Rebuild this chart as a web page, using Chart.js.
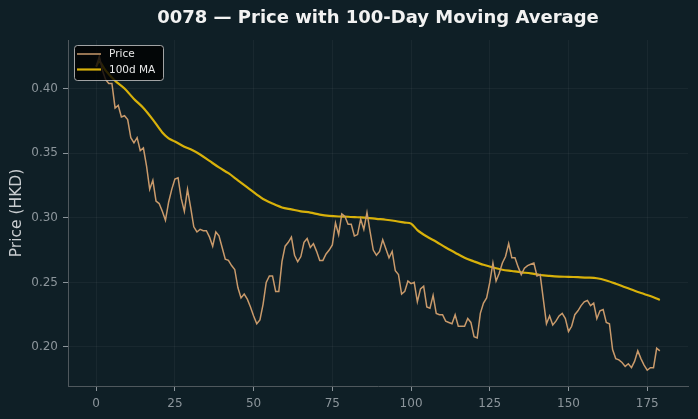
<!DOCTYPE html>
<html>
<head>
<meta charset="utf-8">
<script src="https://cdn.jsdelivr.net/npm/chart.js@4.4.1/dist/chart.umd.min.js"></script>
<style>
  html, body { margin: 0; padding: 0; background: #0f1f26; }
  #wrap { width: 698px; height: 419px; }
</style>
</head>
<body>
<div id="wrap"><canvas id="c" width="698" height="419"></canvas></div>
<script>
// ---- Data ----
const titleText = "0078 — Price with 100-Day Moving Average";
const yAxisLabel = "Price (HKD)";
const seriesNames = ["Price", "100d MA"];

const price = [
  0.417, 0.425, 0.414, 0.407, 0.404, 0.404, 0.385, 0.387, 0.378, 0.379,
  0.376, 0.362, 0.358, 0.362, 0.352, 0.354, 0.340, 0.322, 0.329, 0.313,
  0.311, 0.305, 0.298, 0.312, 0.322, 0.330, 0.331, 0.315, 0.305, 0.322,
  0.308, 0.293, 0.289, 0.291, 0.290, 0.290, 0.285, 0.278, 0.289, 0.286,
  0.277, 0.268, 0.267, 0.263, 0.260, 0.246, 0.238, 0.241, 0.237, 0.231,
  0.224, 0.218, 0.221, 0.233, 0.250, 0.255, 0.255, 0.243, 0.243, 0.266,
  0.278, 0.281, 0.285, 0.271, 0.266, 0.270, 0.281, 0.284, 0.277, 0.280,
  0.274, 0.267, 0.267, 0.272, 0.275, 0.279, 0.296, 0.287, 0.303, 0.301,
  0.295, 0.295, 0.286, 0.287, 0.299, 0.291, 0.304, 0.289, 0.275, 0.271,
  0.274, 0.283, 0.276, 0.269, 0.274, 0.259, 0.256, 0.241, 0.243, 0.251,
  0.249, 0.250, 0.235, 0.245, 0.247, 0.231, 0.230, 0.240, 0.226, 0.225,
  0.225, 0.220, 0.219, 0.218, 0.225, 0.216, 0.216, 0.216, 0.222, 0.219,
  0.208, 0.207, 0.226, 0.234, 0.238, 0.250, 0.265, 0.251, 0.257, 0.265,
  0.270, 0.280, 0.269, 0.269, 0.262, 0.256, 0.261, 0.263, 0.264, 0.265,
  0.255, 0.256, 0.237, 0.218, 0.224, 0.217, 0.220, 0.224, 0.226, 0.222,
  0.212, 0.216, 0.225, 0.228, 0.232, 0.235, 0.236, 0.232, 0.234, 0.222,
  0.228, 0.229, 0.219, 0.218, 0.198, 0.191, 0.190, 0.188, 0.185, 0.187,
  0.184, 0.189, 0.197, 0.191, 0.186, 0.182, 0.184, 0.184, 0.199, 0.197
];
const days = price.map((_, i) => i);

const maDays = [0, 1, 3, 6, 9, 12, 15, 18, 21, 23, 25, 28, 30, 33, 36, 39, 42, 45, 48, 51,
  53, 56, 59, 62, 65, 68, 71, 74, 77, 80, 83, 86, 89, 92, 95, 98, 100, 102, 105, 108,
  111, 114, 117, 120, 123, 126, 129, 132, 135, 138, 141, 144, 147, 150, 153, 156, 159,
  162, 165, 168, 171, 174, 177, 179];
const maValues = [0.417, 0.421, 0.414, 0.406, 0.400, 0.392, 0.385, 0.376, 0.366, 0.3615,
  0.359, 0.355, 0.353, 0.349, 0.344, 0.339, 0.3345, 0.329, 0.3235, 0.318,
  0.3145, 0.311, 0.308, 0.3065, 0.305, 0.304, 0.3025, 0.3015, 0.301, 0.3008,
  0.3004, 0.300, 0.2992, 0.2985, 0.2975, 0.2963, 0.2955, 0.2905, 0.2855, 0.2815,
  0.277, 0.273, 0.269, 0.2662, 0.2636, 0.2615, 0.2598, 0.2588, 0.2578, 0.257,
  0.2557, 0.255, 0.2545, 0.2543, 0.254, 0.2537, 0.2532, 0.2515, 0.249, 0.2462,
  0.2435, 0.241, 0.2385, 0.2364];

const xTicks = [0, 25, 50, 75, 100, 125, 150, 175];
const yTicks = [0.20, 0.25, 0.30, 0.35, 0.40];

// ---- Styles ----
const PRICE_COLOR = '#c99a6b';
const MA_COLOR = '#d8b10a';
const TICK_COLOR = '#8c959b';
const SPINE_COLOR = '#4f585d';
const GRID_COLOR = 'rgba(255,255,255,0.045)';
const FONT = "'DejaVu Sans', sans-serif";

const legendPlugin = {
  id: 'insideLegend',
  afterDraw(chart) {
    const ctx = chart.ctx;
    const x = 74.5, y = 45.5, w = 89, h = 35, r = 3;
    ctx.save();
    ctx.beginPath();
    ctx.moveTo(x + r, y);
    ctx.lineTo(x + w - r, y); ctx.quadraticCurveTo(x + w, y, x + w, y + r);
    ctx.lineTo(x + w, y + h - r); ctx.quadraticCurveTo(x + w, y + h, x + w - r, y + h);
    ctx.lineTo(x + r, y + h); ctx.quadraticCurveTo(x, y + h, x, y + h - r);
    ctx.lineTo(x, y + r); ctx.quadraticCurveTo(x, y, x + r, y);
    ctx.closePath();
    ctx.fillStyle = 'rgba(0,0,0,0.8)';
    ctx.fill();
    ctx.strokeStyle = 'rgba(200,200,200,0.8)';
    ctx.lineWidth = 1;
    ctx.stroke();
    const items = [
      { label: seriesNames[0], color: PRICE_COLOR, lw: 1.5, yy: 54 },
      { label: seriesNames[1], color: MA_COLOR, lw: 2.2, yy: 69.5 }
    ];
    items.forEach(it => {
      ctx.beginPath();
      ctx.moveTo(77, it.yy); ctx.lineTo(101, it.yy);
      ctx.strokeStyle = it.color; ctx.lineWidth = it.lw; ctx.stroke();
      ctx.fillStyle = '#e8e8e8';
      ctx.font = "10.5px " + FONT;
      ctx.textBaseline = 'middle';
      ctx.textAlign = 'left';
      ctx.fillText(it.label, 109, it.yy + 0.5);
    });
    ctx.restore();
  }
};

new Chart(document.getElementById('c'), {
  type: 'line',
  data: {
    datasets: [
      {
        label: seriesNames[0],
        data: days.map((d, i) => ({ x: d, y: price[i] })),
        borderColor: PRICE_COLOR,
        borderWidth: 1.5,
        pointRadius: 0,
        tension: 0,
        fill: false
      },
      {
        label: seriesNames[1],
        data: maDays.map((d, i) => ({ x: d, y: maValues[i] })),
        borderColor: MA_COLOR,
        borderWidth: 2.2,
        pointRadius: 0,
        tension: 0.3,
        fill: false
      }
    ]
  },
  options: {
    responsive: false,
    animation: false,
    devicePixelRatio: 1,
    layout: { padding: { left: 0, right: 10, top: 0, bottom: 0 } },
    plugins: {
      legend: { display: false },
      tooltip: { enabled: false },
      title: {
        display: true,
        text: titleText,
        fullSize: false,
        color: '#f2f2f2',
        font: { family: FONT, size: 18, weight: 'bold', lineHeight: 1.2 },
        padding: { top: 7.8, bottom: 10.6 }
      }
    },
    scales: {
      x: {
        type: 'linear',
        min: -8.95,
        max: 187.95,
        afterBuildTicks: s => { s.ticks = xTicks.map(v => ({ value: v })); },
        afterFit: s => { s.height = 33; },
        ticks: { color: TICK_COLOR, font: { family: FONT, size: 12 }, padding: 6, maxRotation: 0,
                 callback: v => String(v) },
        grid: { color: GRID_COLOR, tickColor: TICK_COLOR, tickLength: 5, drawTicks: true },
        border: { display: true, color: SPINE_COLOR, width: 1 }
      },
      y: {
        type: 'linear',
        min: 0.1698,
        max: 0.4376,
        afterBuildTicks: s => { s.ticks = yTicks.map(v => ({ value: v })); },
        afterFit: s => { s.width = 68; },
        ticks: { color: TICK_COLOR, font: { family: FONT, size: 12 }, padding: 5,
                 callback: v => Number(v).toFixed(2) },
        grid: { color: GRID_COLOR, tickColor: TICK_COLOR, tickLength: 5, drawTicks: true },
        border: { display: true, color: SPINE_COLOR, width: 1 },
        title: { display: true, text: yAxisLabel, color: '#c9cdd0',
                 font: { family: FONT, size: 15.5 }, padding: { top: 7.5, bottom: 0 } }
      }
    }
  },
  plugins: [legendPlugin]
});
</script>
</body>
</html>
